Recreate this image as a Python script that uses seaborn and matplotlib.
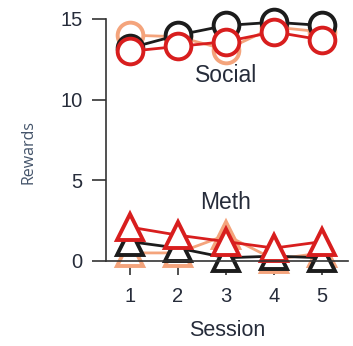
import matplotlib
matplotlib.use("Agg")
import matplotlib.pyplot as plt
import seaborn as sns
import pandas as pd

sessions = [1, 2, 3, 4, 5]

# Social reward earned per session
social_black = [13.2, 14.0, 14.6, 14.8, 14.6]
social_orange = [14.0, 13.9, 13.1, 14.5, 14.2]
social_red = [13.0, 13.3, 13.6, 14.2, 13.7]

# Meth reward earned per session
meth_black = [1.2, 0.8, 0.2, 0.3, 0.2]
meth_orange = [0.5, 0.5, 1.6, 0.1, 0.5]
meth_red = [2.1, 1.6, 1.2, 0.8, 1.2]

y_ticks = [0, 5, 10, 15]

c_black = "#1c1c1c"
c_orange = "#f4a47c"
c_red = "#d81e1e"
c_text = "#262c3a"

sns.set_style("ticks")
plt.rcParams["font.family"] = ["Liberation Sans", "DejaVu Sans"]

fig = plt.figure(figsize=(3.53, 3.46), dpi=100)
ax = fig.add_axes([0.300, 0.2457, 0.686, 0.6994])

series = [
    (social_orange, c_orange, "o", 18.5),
    (social_black, c_black, "o", 18.5),
    (social_red, c_red, "o", 18.5),
    (meth_orange, c_orange, "^", 19),
    (meth_black, c_black, "^", 19),
    (meth_red, c_red, "^", 19),
]
for vals, col, mk, ms in series:
    df = pd.DataFrame({"Session": sessions, "Rewards": vals})
    sns.lineplot(data=df, x="Session", y="Rewards", ax=ax, color=col,
                 linewidth=2.0, marker=mk, markersize=ms,
                 markerfacecolor="white", markeredgecolor=col,
                 markeredgewidth=2.8, clip_on=False)

ax.set_xlim(0.5, 5.54)
ax.set_ylim(0, 15)
ax.set_xticks(sessions)
ax.set_yticks(y_ticks)
ax.tick_params(axis="both", length=10, width=1.2, color="#333333",
               labelsize=14.5, labelcolor=c_text)
ax.tick_params(axis="x", pad=9)
ax.tick_params(axis="y", pad=7)
for s in ["top", "right"]:
    ax.spines[s].set_visible(False)
for s in ["left", "bottom"]:
    ax.spines[s].set_linewidth(1.2)
    ax.spines[s].set_color("#333333")

ax.text(3, 11.5, "Social", ha="center", va="center", fontsize=16.5, color=c_text)
ax.text(3, 3.6, "Meth", ha="center", va="center", fontsize=16.5, color=c_text)

ax.set_xlabel("Session", fontsize=15.5, color=c_text)
ax.xaxis.set_label_coords(0.5, -0.245)
ax.set_ylabel("Rewards", fontsize=11.5, color="#44546a", family=["Open Sans", "DejaVu Sans"])
ax.yaxis.set_label_coords(-0.285, 0.45)

fig.savefig("out.png", dpi=100)
